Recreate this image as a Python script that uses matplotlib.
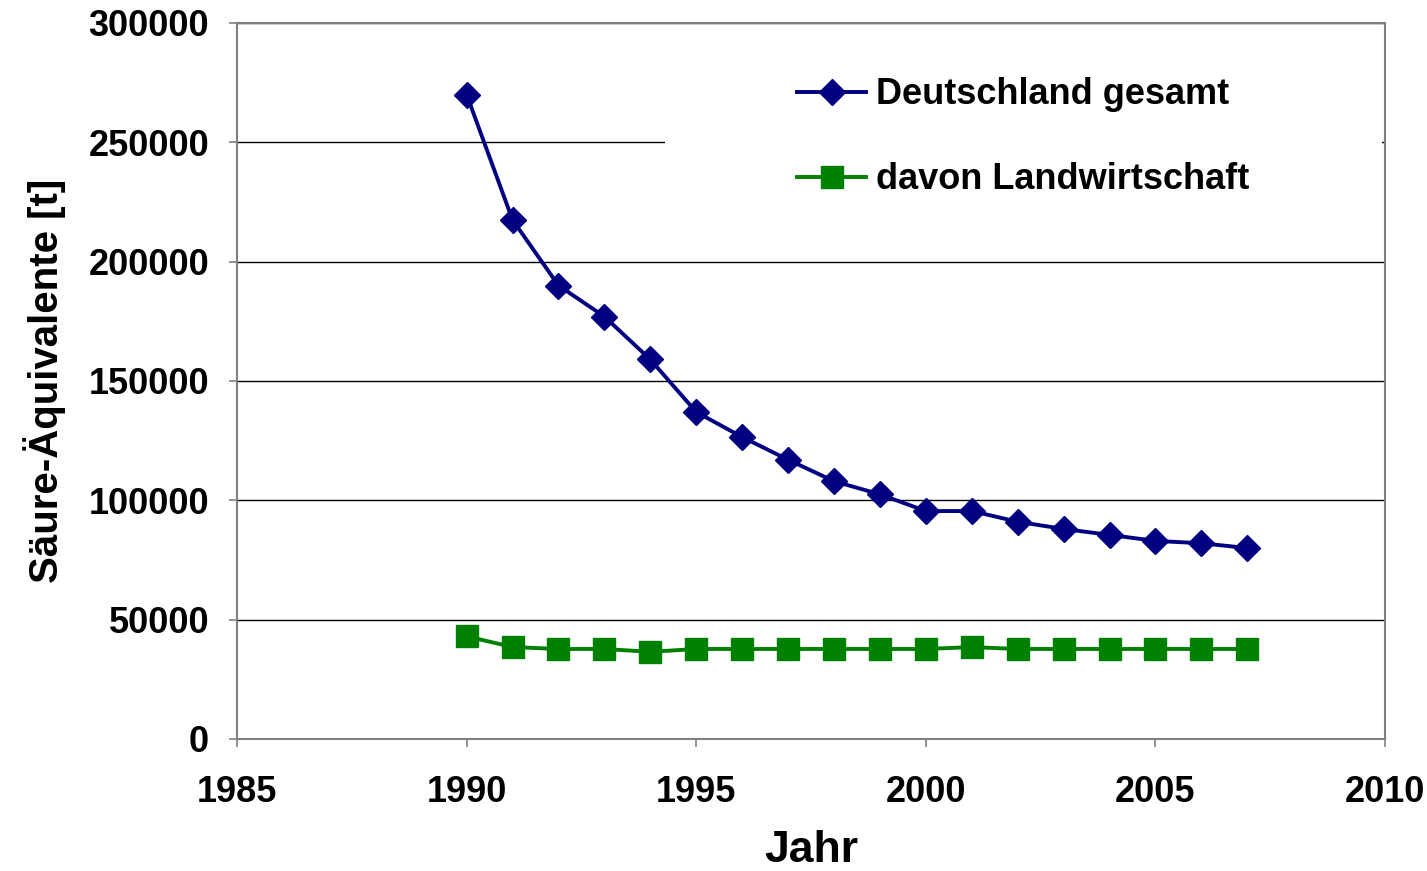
import matplotlib.pyplot as plt
from matplotlib.patches import Rectangle

plt.rcParams['font.family'] = ['Liberation Sans', 'DejaVu Sans']
plt.rcParams['font.weight'] = 'bold'

jahre = [1990, 1991, 1992, 1993, 1994, 1995, 1996, 1997, 1998, 1999,
         2000, 2001, 2002, 2003, 2004, 2005, 2006, 2007]
deutschland = [270000, 217500, 190000, 177000, 159000, 137000, 126500, 117000, 108000, 102500,
               95500, 95500, 91000, 88000, 85500, 83000, 82000, 80000]
landwirtschaft = [43000, 38500, 37700, 37700, 36500, 37700, 37700, 37700, 37700, 37700,
                  37700, 38500, 37700, 37700, 37700, 37700, 37700, 37700]
x_ticks = [1985, 1990, 1995, 2000, 2005, 2010]
y_ticks = [0, 50000, 100000, 150000, 200000, 250000, 300000]

fig = plt.figure(figsize=(14.27, 8.71), dpi=100)
ax = fig.add_axes([0.1661, 0.1516, 0.8045, 0.822])

ax.set_axisbelow(True)
ax.grid(axis='y', color='black', linewidth=1.0, zorder=0.5)
# weisse Flaeche hinter der Legende (verdeckt die Gitterlinie)
ax.add_patch(Rectangle((0.373, 0.72), 0.624, 0.25, transform=ax.transAxes,
                       facecolor='white', edgecolor='none', zorder=1))

ax.plot(jahre, deutschland, color='#000080', linewidth=2.8, marker='D', markersize=13,
        label='Deutschland gesamt', zorder=3)
ax.plot(jahre, landwirtschaft, color='#008000', linewidth=2.8, marker='s', markersize=16,
        label='davon Landwirtschaft', zorder=3)

ax.set_xlim(1985, 2010)
ax.set_ylim(0, 300000)
ax.set_xticks(x_ticks)
ax.set_yticks(y_ticks)
ax.tick_params(labelsize=26, length=6, width=1.2, color='#808080', direction='out')
for s in ax.spines.values():
    s.set_color('#808080')
    s.set_linewidth(1.5)
for lab in ax.get_xticklabels() + ax.get_yticklabels():
    lab.set_fontweight('bold')
ax.tick_params(axis='x', pad=20)
ax.tick_params(axis='y', pad=14)

ax.set_xlabel('Jahr', fontsize=32, fontweight='bold', labelpad=14)
ax.set_ylabel('Säure-Äquivalente [t]', fontsize=29, fontweight='bold', labelpad=16)

leg = ax.legend(loc='upper left', bbox_to_anchor=(0.488, 0.924), frameon=False,
                fontsize=26, handlelength=1.9, handletextpad=0.28, labelspacing=1.38,
                borderpad=0, borderaxespad=0)
for t in leg.get_texts():
    t.set_fontweight('bold')

fig.savefig('out.png', dpi=100)
